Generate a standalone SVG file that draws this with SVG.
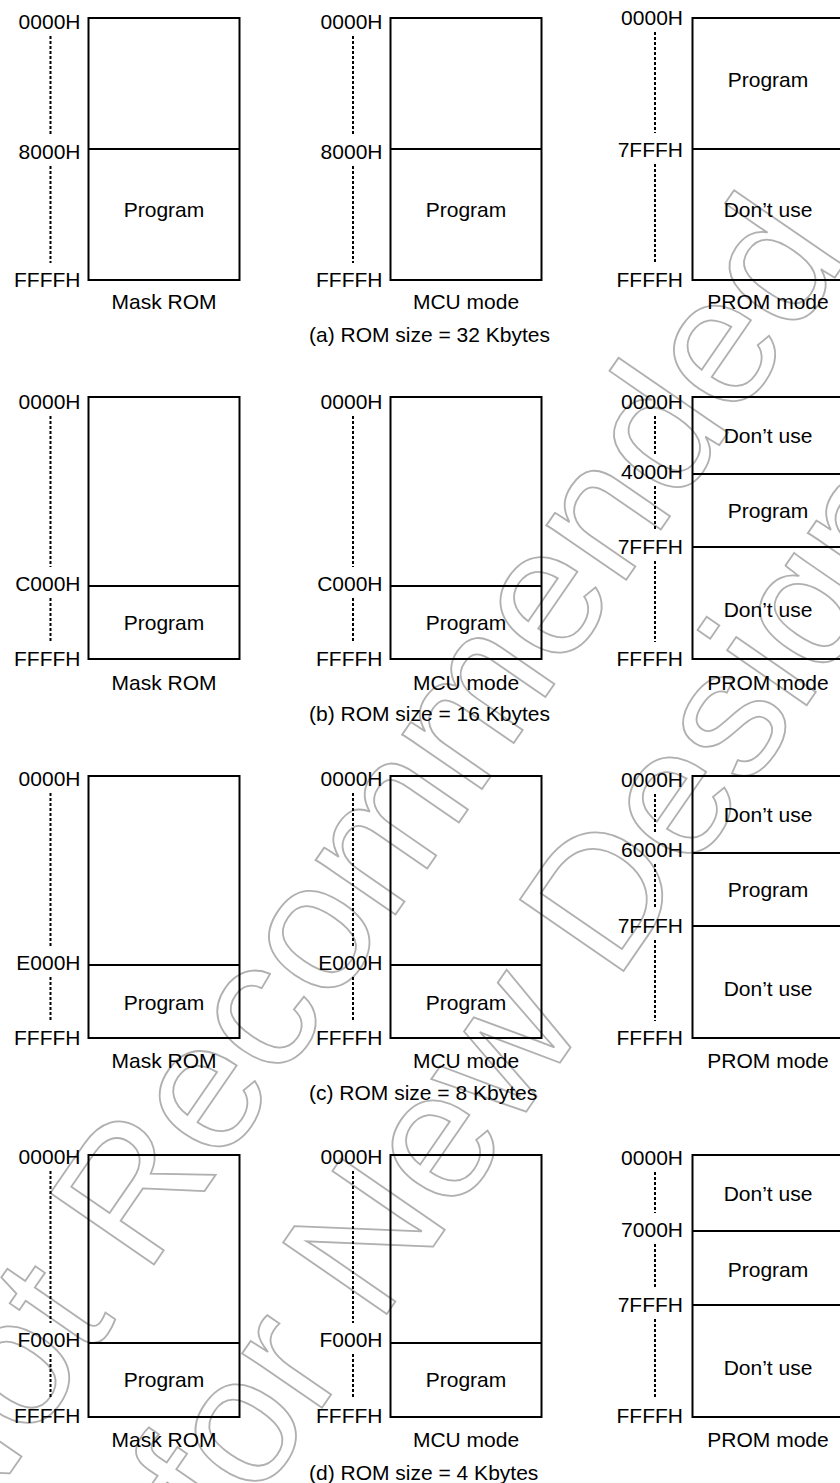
<svg xmlns="http://www.w3.org/2000/svg" width="840" height="1483" viewBox="0 0 840 1483">
<style>
text{font-family:"Liberation Sans",Arial,Helvetica,sans-serif;font-size:21px;fill:#000}
.a{text-anchor:end}
.m{text-anchor:middle}
.box{fill:none;stroke:#000;stroke-width:2}
.dv{stroke:#000;stroke-width:2}
.dt{stroke:#000;stroke-width:2;stroke-dasharray:3 2}
.wm{font-size:183px;fill:none;stroke:#b0b0b0;stroke-width:1.8}
</style>
<rect width="840" height="1483" fill="#fff"/>
<g id="watermark">
<text class="wm" x="-45" y="1553" transform="rotate(-55.4 -45 1553)">Not Recommended</text>
<text class="wm" x="228" y="1544" transform="rotate(-55.4 228 1544)">for New Designs</text>
</g>

<!-- Row a -->
<g id="a-mask">
<rect class="box" x="88.5" y="18" width="151" height="262"/>
<line class="dv" x1="88.5" y1="149" x2="239.5" y2="149"/>
<line class="dt" x1="50.5" y1="36" x2="50.5" y2="135"/>
<line class="dt" x1="50.5" y1="166" x2="50.5" y2="263"/>
<text class="a" x="80.5" y="29">0000H</text>
<text class="a" x="80.5" y="159">8000H</text>
<text class="a" x="80.5" y="287">FFFFH</text>
<text class="m" x="164" y="217">Program</text>
<text class="m" x="164" y="309">Mask ROM</text>
</g>
<g id="a-mcu">
<rect class="box" x="390.5" y="18" width="151" height="262"/>
<line class="dv" x1="390.5" y1="149" x2="541.5" y2="149"/>
<line class="dt" x1="353" y1="36" x2="353" y2="135"/>
<line class="dt" x1="353" y1="166" x2="353" y2="263"/>
<text class="a" x="382.5" y="29">0000H</text>
<text class="a" x="382.5" y="159">8000H</text>
<text class="a" x="382.5" y="287">FFFFH</text>
<text class="m" x="466" y="217">Program</text>
<text class="m" x="466" y="309">MCU mode</text>
</g>
<g id="a-prom">
<rect class="box" x="692.5" y="18" width="151" height="262"/>
<line class="dv" x1="692.5" y1="149" x2="843.5" y2="149"/>
<line class="dt" x1="655" y1="32" x2="655" y2="133"/>
<line class="dt" x1="655" y1="164" x2="655" y2="263"/>
<text class="a" x="683" y="25">0000H</text>
<text class="a" x="683" y="157">7FFFH</text>
<text class="a" x="683" y="287">FFFFH</text>
<text class="m" x="768" y="87">Program</text>
<text class="m" x="768" y="217">Don’t use</text>
<text class="m" x="768" y="309">PROM mode</text>
</g>
<text id="cap-a" x="309" y="342">(a) ROM size = 32 Kbytes</text>

<!-- Row b -->
<g id="b-mask">
<rect class="box" x="88.5" y="397" width="151" height="262"/>
<line class="dv" x1="88.5" y1="586" x2="239.5" y2="586"/>
<line class="dt" x1="50.5" y1="416" x2="50.5" y2="567"/>
<line class="dt" x1="50.5" y1="598" x2="50.5" y2="642"/>
<text class="a" x="80.5" y="409">0000H</text>
<text class="a" x="80.5" y="591">C000H</text>
<text class="a" x="80.5" y="666">FFFFH</text>
<text class="m" x="164" y="630">Program</text>
<text class="m" x="164" y="690">Mask ROM</text>
</g>
<g id="b-mcu">
<rect class="box" x="390.5" y="397" width="151" height="262"/>
<line class="dv" x1="390.5" y1="586" x2="541.5" y2="586"/>
<line class="dt" x1="353" y1="416" x2="353" y2="567"/>
<line class="dt" x1="353" y1="598" x2="353" y2="642"/>
<text class="a" x="382.5" y="409">0000H</text>
<text class="a" x="382.5" y="591">C000H</text>
<text class="a" x="382.5" y="666">FFFFH</text>
<text class="m" x="466" y="630">Program</text>
<text class="m" x="466" y="690">MCU mode</text>
</g>
<g id="b-prom">
<rect class="box" x="692.5" y="397" width="151" height="262"/>
<line class="dv" x1="692.5" y1="474" x2="843.5" y2="474"/>
<line class="dv" x1="692.5" y1="547" x2="843.5" y2="547"/>
<line class="dt" x1="655" y1="416" x2="655" y2="455"/>
<line class="dt" x1="655" y1="486" x2="655" y2="530"/>
<line class="dt" x1="655" y1="561" x2="655" y2="642"/>
<text class="a" x="683" y="409">0000H</text>
<text class="a" x="683" y="479">4000H</text>
<text class="a" x="683" y="554">7FFFH</text>
<text class="a" x="683" y="666">FFFFH</text>
<text class="m" x="768" y="443">Don’t use</text>
<text class="m" x="768" y="518">Program</text>
<text class="m" x="768" y="617">Don’t use</text>
<text class="m" x="768" y="690">PROM mode</text>
</g>
<text id="cap-b" x="309" y="721">(b) ROM size = 16 Kbytes</text>

<!-- Row c -->
<g id="c-mask">
<rect class="box" x="88.5" y="776" width="151" height="262"/>
<line class="dv" x1="88.5" y1="965" x2="239.5" y2="965"/>
<line class="dt" x1="50.5" y1="793" x2="50.5" y2="946"/>
<line class="dt" x1="50.5" y1="977" x2="50.5" y2="1021"/>
<text class="a" x="80.5" y="786">0000H</text>
<text class="a" x="80.5" y="970">E000H</text>
<text class="a" x="80.5" y="1045">FFFFH</text>
<text class="m" x="164" y="1010">Program</text>
<text class="m" x="164" y="1068">Mask ROM</text>
</g>
<g id="c-mcu">
<rect class="box" x="390.5" y="776" width="151" height="262"/>
<line class="dv" x1="390.5" y1="965" x2="541.5" y2="965"/>
<line class="dt" x1="353" y1="793" x2="353" y2="946"/>
<line class="dt" x1="353" y1="977" x2="353" y2="1021"/>
<text class="a" x="382.5" y="786">0000H</text>
<text class="a" x="382.5" y="970">E000H</text>
<text class="a" x="382.5" y="1045">FFFFH</text>
<text class="m" x="466" y="1010">Program</text>
<text class="m" x="466" y="1068">MCU mode</text>
</g>
<g id="c-prom">
<rect class="box" x="692.5" y="776" width="151" height="262"/>
<line class="dv" x1="692.5" y1="853" x2="843.5" y2="853"/>
<line class="dv" x1="692.5" y1="926" x2="843.5" y2="926"/>
<line class="dt" x1="655" y1="794" x2="655" y2="833"/>
<line class="dt" x1="655" y1="864" x2="655" y2="909"/>
<line class="dt" x1="655" y1="940" x2="655" y2="1021"/>
<text class="a" x="683" y="787">0000H</text>
<text class="a" x="683" y="857">6000H</text>
<text class="a" x="683" y="933">7FFFH</text>
<text class="a" x="683" y="1045">FFFFH</text>
<text class="m" x="768" y="822">Don’t use</text>
<text class="m" x="768" y="897">Program</text>
<text class="m" x="768" y="996">Don’t use</text>
<text class="m" x="768" y="1068">PROM mode</text>
</g>
<text id="cap-c" x="309" y="1100">(c) ROM size = 8 Kbytes</text>

<!-- Row d -->
<g id="d-mask">
<rect class="box" x="88.5" y="1155" width="151" height="262"/>
<line class="dv" x1="88.5" y1="1343" x2="239.5" y2="1343"/>
<line class="dt" x1="50.5" y1="1171" x2="50.5" y2="1323"/>
<line class="dt" x1="50.5" y1="1354" x2="50.5" y2="1399"/>
<text class="a" x="80.5" y="1164">0000H</text>
<text class="a" x="80.5" y="1347">F000H</text>
<text class="a" x="80.5" y="1423">FFFFH</text>
<text class="m" x="164" y="1387">Program</text>
<text class="m" x="164" y="1447">Mask ROM</text>
</g>
<g id="d-mcu">
<rect class="box" x="390.5" y="1155" width="151" height="262"/>
<line class="dv" x1="390.5" y1="1343" x2="541.5" y2="1343"/>
<line class="dt" x1="353" y1="1171" x2="353" y2="1323"/>
<line class="dt" x1="353" y1="1354" x2="353" y2="1399"/>
<text class="a" x="382.5" y="1164">0000H</text>
<text class="a" x="382.5" y="1347">F000H</text>
<text class="a" x="382.5" y="1423">FFFFH</text>
<text class="m" x="466" y="1387">Program</text>
<text class="m" x="466" y="1447">MCU mode</text>
</g>
<g id="d-prom">
<rect class="box" x="692.5" y="1155" width="151" height="262"/>
<line class="dv" x1="692.5" y1="1231" x2="843.5" y2="1231"/>
<line class="dv" x1="692.5" y1="1305" x2="843.5" y2="1305"/>
<line class="dt" x1="655" y1="1172" x2="655" y2="1213"/>
<line class="dt" x1="655" y1="1244" x2="655" y2="1288"/>
<line class="dt" x1="655" y1="1319" x2="655" y2="1399"/>
<text class="a" x="683" y="1165">0000H</text>
<text class="a" x="683" y="1237">7000H</text>
<text class="a" x="683" y="1312">7FFFH</text>
<text class="a" x="683" y="1423">FFFFH</text>
<text class="m" x="768" y="1201">Don’t use</text>
<text class="m" x="768" y="1277">Program</text>
<text class="m" x="768" y="1375">Don’t use</text>
<text class="m" x="768" y="1447">PROM mode</text>
</g>
<text id="cap-d" x="309" y="1480">(d) ROM size = 4 Kbytes</text>
<g id="connectors"/>
</svg>
